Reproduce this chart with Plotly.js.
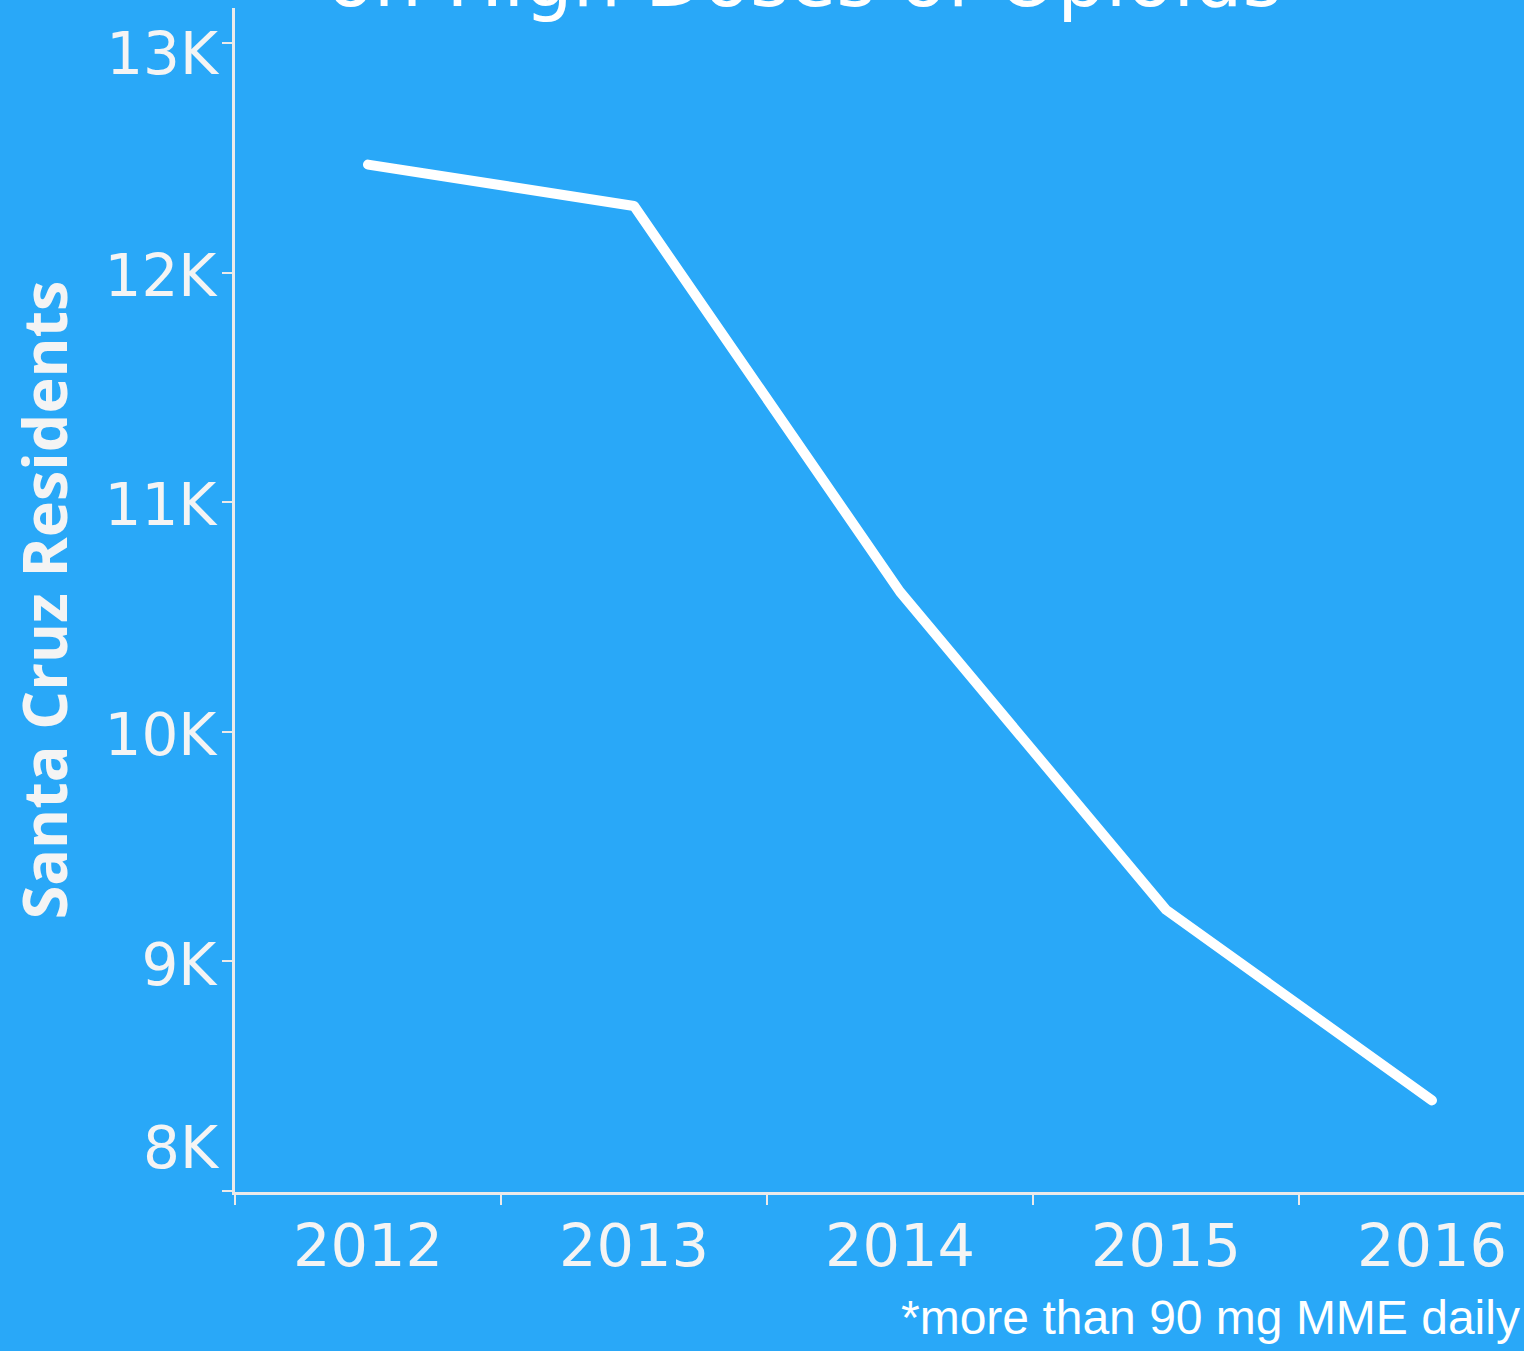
<!DOCTYPE html>
<html>
<head>
<meta charset="utf-8">
<script src="https://cdn.plot.ly/plotly-3.0.1.min.js"></script>
<style>
html,body{margin:0;padding:0;background:#29a8f8;}
#chart{width:1524px;height:1351px;}
.js-line{stroke-linecap:round;stroke-linejoin:round;}
</style>
</head>
<body>
<div id="chart"></div>
<script>
const years = ['2012', '2013', '2014', '2015', '2016'];
const residents = [12470, 12290, 10610, 9225, 8395];
const yTickVals = [8000, 9000, 10000, 11000, 12000, 13000];
const yTickText = ['8K', '9K', '10K', '11K', '12K', '13K'];
const titleText = 'on High Doses of Opioids';
const yTitle = 'Santa Cruz Residents';
const noteText = '*more than 90 mg MME daily';

const bg = '#29a8f8';
const axisCol = '#eaeaea';
const yRange = [7996, 13152];
const last = yTickVals.length - 1;

const trace = {
  x: years,
  y: residents,
  type: 'scatter',
  mode: 'lines',
  line: {color: '#ffffff', width: 10},
  hoverinfo: 'x+y'
};

// end labels are nudged inward (bottom one lifted above the x axis), as in the reference
const mainText = yTickText.map((t, i) => (i === 0 || i === last ? '' : t));

const tickFont = {family: 'DejaVu Sans', size: 58, color: '#f4f4f4'};

function labelAxis(idx, shift) {
  return {
    overlaying: 'y',
    side: 'left',
    range: yRange,
    tickvals: [yTickVals[idx]],
    ticktext: [yTickText[idx]],
    ticks: '',
    ticklabelstandoff: 16,
    ticklabelshift: shift,
    showline: false,
    showgrid: false,
    zeroline: false,
    tickfont: tickFont
  };
}

const layout = {
  width: 1524,
  height: 1351,
  paper_bgcolor: bg,
  plot_bgcolor: bg,
  showlegend: false,
  margin: {l: 235, r: 0, t: 8, b: 159, pad: 0},
  title: {
    text: titleText,
    font: {family: 'DejaVu Sans', size: 76, color: '#ffffff'},
    x: 0.442,
    xanchor: 'center',
    xref: 'paper',
    yref: 'container',
    y: 0.9954,
    yanchor: 'bottom'
  },
  xaxis: {
    type: 'category',
    range: [-0.5, 4.346],
    tickson: 'boundaries',
    ticks: 'outside',
    ticklen: 10,
    tickwidth: 2,
    tickcolor: axisCol,
    showline: true,
    linecolor: axisCol,
    linewidth: 3,
    showgrid: false,
    zeroline: false,
    tickfont: {family: 'DejaVu Sans', size: 59, color: '#f4f4f4'}
  },
  yaxis: {
    range: yRange,
    tickvals: yTickVals,
    ticktext: mainText,
    ticks: 'outside',
    ticklen: 10,
    tickwidth: 2,
    tickcolor: axisCol,
    ticklabelstandoff: -6,
    ticklabelshift: 3,
    showline: true,
    linecolor: axisCol,
    linewidth: 3,
    showgrid: false,
    zeroline: false,
    tickfont: tickFont,
    title: {
      text: yTitle,
      font: {family: 'Open Sans', size: 61, color: '#f4f4f4', weight: 'bold'},
      standoff: 18
    }
  },
  yaxis2: labelAxis(0, -43),
  yaxis3: labelAxis(last, 11),
  annotations: [{
    text: noteText,
    xref: 'paper',
    yref: 'paper',
    x: 1,
    y: -0.082,
    xanchor: 'right',
    yanchor: 'top',
    xshift: -2,
    showarrow: false,
    font: {family: 'Liberation Sans', size: 48, color: '#ffffff'}
  }]
};

const helper2 = {x: [years[0]], y: [residents[0]], yaxis: 'y2', type: 'scatter', mode: 'markers', marker: {opacity: 0}, hoverinfo: 'skip'};
const helper3 = {x: [years[0]], y: [residents[0]], yaxis: 'y3', type: 'scatter', mode: 'markers', marker: {opacity: 0}, hoverinfo: 'skip'};

Plotly.newPlot('chart', [trace, helper2, helper3], layout, {displayModeBar: false, responsive: false});
</script>
</body>
</html>
